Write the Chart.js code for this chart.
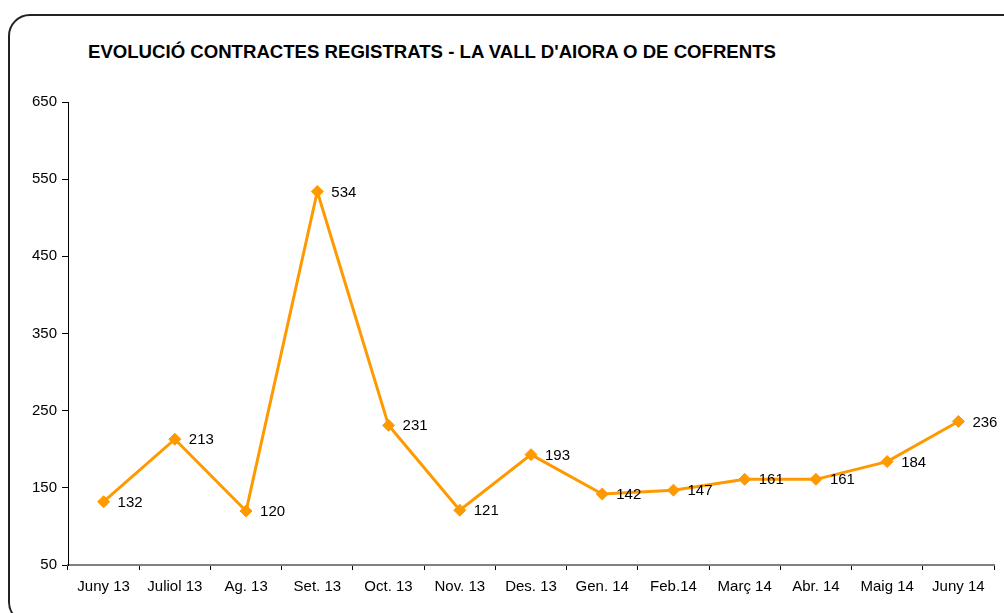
<!DOCTYPE html>
<html>
<head>
<meta charset="utf-8">
<script src="https://cdn.jsdelivr.net/npm/chart.js@4"></script>
<style>
  html, body { margin: 0; padding: 0; background: #fff; }
  #wrap { position: relative; width: 1004px; height: 613px; overflow: hidden; }
  #marc { position: absolute; left: 8px; top: 14px; width: 1016px; height: 610px;
          border: 2px solid #222; border-radius: 22px; box-sizing: border-box; }
  #titol { position: absolute; left: 88px; top: 41px; margin: 0; line-height: 22px;
           font: bold 18.6px "Liberation Sans", Arial, sans-serif; color: #000; white-space: nowrap; }
  canvas { position: absolute; left: 0; top: 0; }
</style>
</head>
<body>
<div id="wrap">
  <div id="marc"></div>
  <h1 id="titol">EVOLUCIÓ CONTRACTES REGISTRATS - LA VALL D'AIORA O DE COFRENTS</h1>
  <canvas id="grafic" width="1004" height="613"></canvas>
</div>
<script>
// Dades del gràfic
const mesos = ['Juny 13', 'Juliol 13', 'Ag. 13', 'Set. 13', 'Oct. 13', 'Nov. 13', 'Des. 13',
               'Gen. 14', 'Feb.14', 'Març 14', 'Abr. 14', 'Maig 14', 'Juny 14'];
const contractes = [132, 213, 120, 534, 231, 121, 193, 142, 147, 161, 161, 184, 236];
const yMin = 50;
const yMax = 650;
const yPas = 100;

const taronja = '#FF9900';
const font = '"Liberation Sans", Arial, sans-serif';

// Etiquetes de valor a la dreta de cada punt
const etiquetes = {
  id: 'etiquetes',
  afterDatasetsDraw(chart) {
    const ctx = chart.ctx;
    const meta = chart.getDatasetMeta(0);
    ctx.save();
    ctx.font = '15px ' + font;
    ctx.fillStyle = '#000';
    ctx.textAlign = 'left';
    ctx.textBaseline = 'middle';
    meta.data.forEach((p, i) => {
      ctx.fillText(String(contractes[i]), p.x + 14, p.y + 1);
    });
    ctx.restore();
  }
};

new Chart(document.getElementById('grafic'), {
  type: 'line',
  data: {
    labels: mesos,
    datasets: [{
      data: contractes,
      borderColor: taronja,
      backgroundColor: taronja,
      borderWidth: 3,
      pointStyle: 'rectRot',
      pointRadius: 6,
      pointBorderWidth: 1,
      pointBorderColor: taronja,
      pointBackgroundColor: taronja,
      tension: 0
    }]
  },
  options: {
    responsive: false,
    animation: false,
    layout: { padding: { top: 102, right: 10, bottom: 0, left: 0 } },
    plugins: {
      legend: { display: false },
      title: { display: false },
      tooltip: { enabled: false }
    },
    scales: {
      x: {
        offset: true,
        grid: { offset: true, drawOnChartArea: false, drawTicks: true, tickLength: 5, color: '#000' },
        border: { color: '#808080', width: 2 },
        ticks: { color: '#000', font: { family: font, size: 15 }, padding: 8, maxRotation: 0, autoSkip: false },
        afterFit(s) { s.height = 48; }
      },
      y: {
        min: yMin,
        max: yMax,
        grid: { drawOnChartArea: false, drawTicks: true, tickLength: 6, color: '#000' },
        border: { color: '#000', width: 1 },
        ticks: { stepSize: yPas, color: '#000', font: { family: font, size: 15 }, padding: 5 },
        afterFit(s) { s.width = 68; }
      }
    }
  },
  plugins: [etiquetes]
});
</script>
</body>
</html>
